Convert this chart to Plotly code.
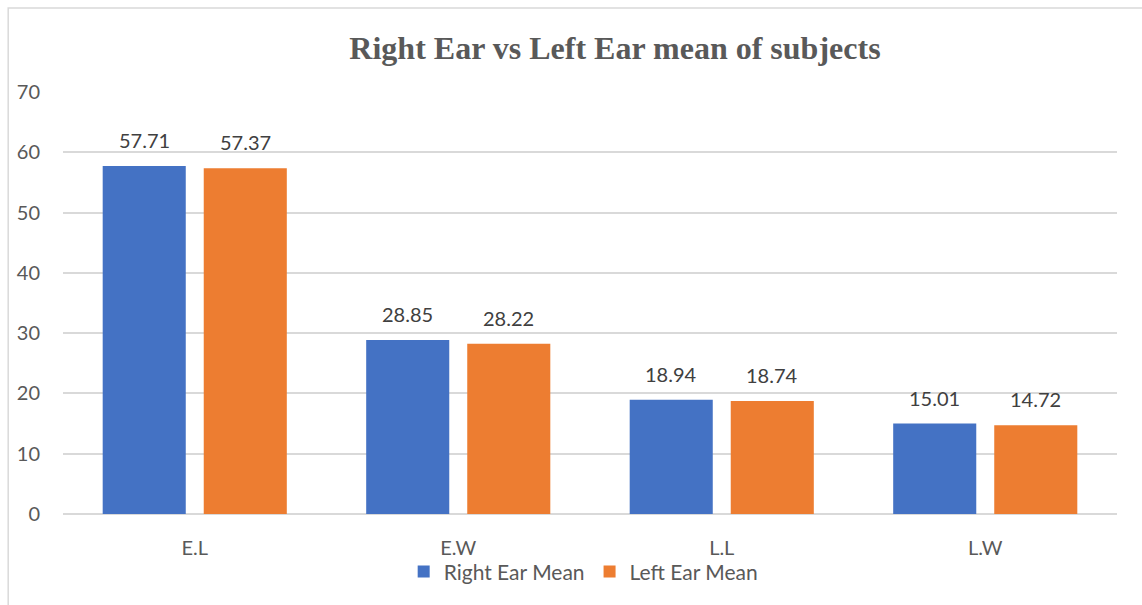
import plotly.graph_objects as go

categories = ["E.L", "E.W", "L.L", "L.W"]
right_ear_mean = [57.71, 28.85, 18.94, 15.01]
left_ear_mean = [57.37, 28.22, 18.74, 14.72]
y_ticks = [0, 10, 20, 30, 40, 50, 60, 70]

TEXT_FONT = "Lato, 'Open Sans', sans-serif"
TEXT_COLOR = "#595959"
LABEL_COLOR = "#404040"

BARGAP = 0.233
BARGROUPGAP = 0.178

fig = go.Figure()

series = [
    ("Right Ear Mean", right_ear_mean, "#4472C4"),
    ("Left Ear Mean", left_ear_mean, "#ED7D31"),
]

for name, values, color in series:
    fig.add_trace(go.Bar(
        name=name,
        x=categories,
        y=values,
        marker=dict(color=color, line=dict(width=0)),
    ))

# value labels above each bar, placed at the centre of its group slot
slot = (1 - BARGAP) / len(series)
for s, (name, values, color) in enumerate(series):
    offset = -(1 - BARGAP) / 2 + slot * (s + 0.5)
    for i, v in enumerate(values):
        fig.add_annotation(
            x=i + offset, y=v, xref="x", yref="y",
            text=f"{v:.2f}", showarrow=False,
            yanchor="bottom", yshift=12,
            font=dict(size=20, color=LABEL_COLOR, family=TEXT_FONT),
        )

# light frame around the whole chart
fig.add_shape(
    type="rect", xref="paper", yref="paper",
    x0=-0.052, x1=1.06, y0=-0.35, y1=1.199,
    line=dict(color="#D9D9D9", width=1.5), fillcolor="rgba(0,0,0,0)",
    layer="below",
)

fig.update_layout(
    width=1142,
    height=605,
    margin=dict(l=63, r=25, t=92, b=91),
    paper_bgcolor="white",
    plot_bgcolor="white",
    barmode="group",
    bargap=BARGAP,
    bargroupgap=BARGROUPGAP,
    title=dict(
        text="<b>Right Ear vs Left Ear mean of subjects</b>",
        font=dict(family="'Liberation Serif', 'Times New Roman', serif", size=32, color=TEXT_COLOR),
        x=0.5385, xanchor="center",
        y=1 - 48 / 605, yanchor="middle",
        xref="container",
    ),
    xaxis=dict(
        showgrid=False,
        showline=False,
        ticks="",
        tickfont=dict(size=20, color=TEXT_COLOR, family=TEXT_FONT),
        ticklabelstandoff=20,
    ),
    yaxis=dict(
        range=[0, 70],
        tickvals=y_ticks,
        showgrid=True,
        gridcolor="#D9D9D9",
        gridwidth=1.5,
        zeroline=True,
        zerolinecolor="#D9D9D9",
        zerolinewidth=1.5,
        showline=False,
        ticks="",
        tickfont=dict(size=20, color=TEXT_COLOR, family=TEXT_FONT),
        ticklabelstandoff=22,
    ),
    legend=dict(
        orientation="h",
        x=0.494, xanchor="center",
        y=-0.137, yanchor="middle",
        bgcolor="rgba(0,0,0,0)",
        font=dict(size=21, color=TEXT_COLOR, family=TEXT_FONT),
        itemwidth=30,
        traceorder="normal",
    ),
    showlegend=True,
)

fig.write_html("out.html")
